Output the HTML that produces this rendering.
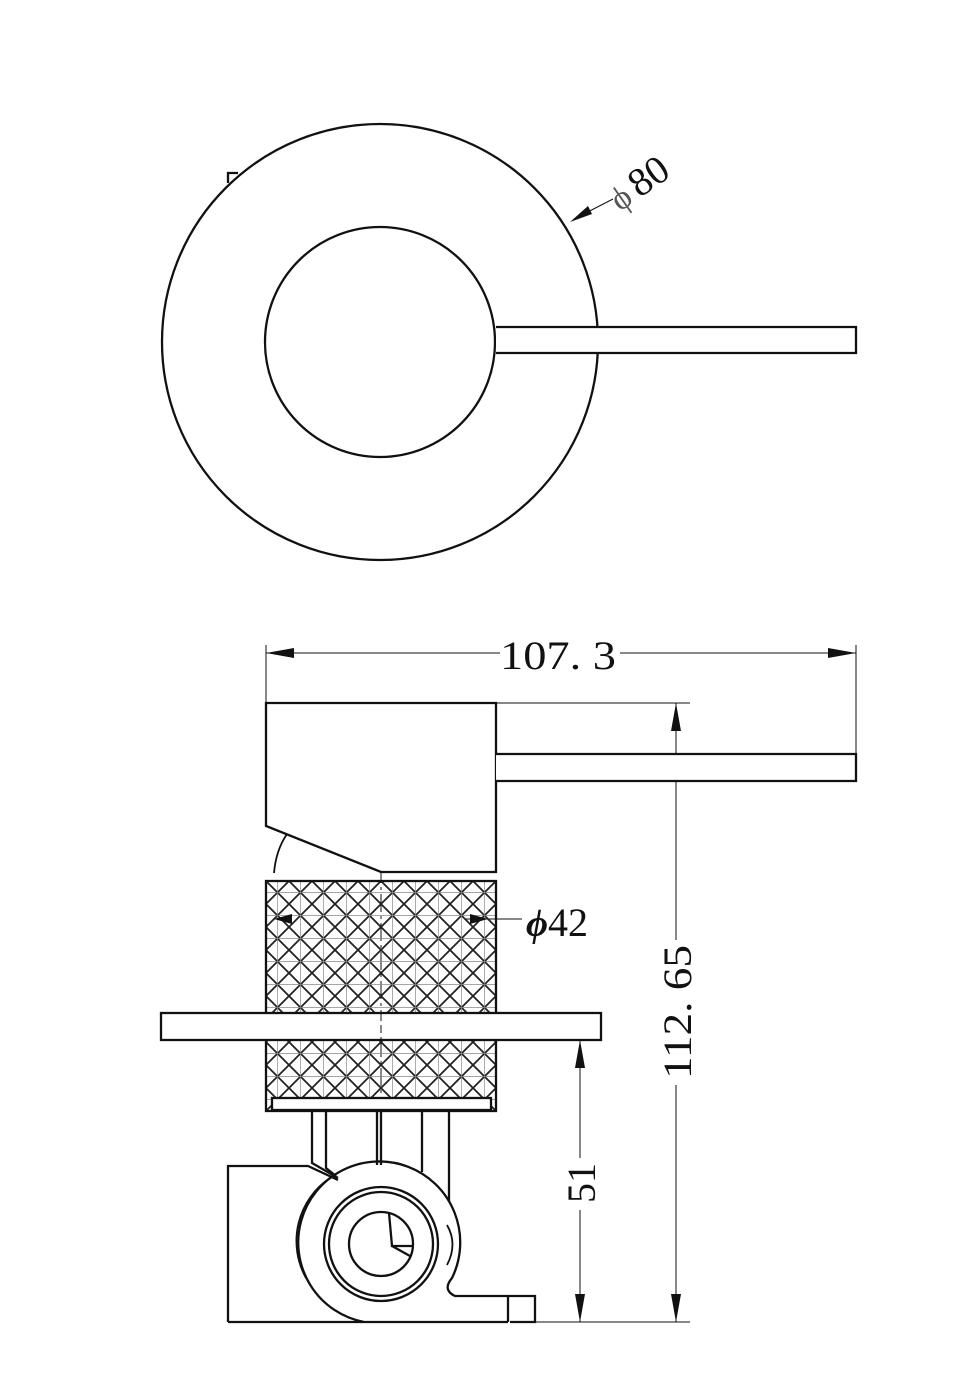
<!DOCTYPE html>
<html><head><meta charset="utf-8"><style>
html,body{margin:0;padding:0;background:#fff;}
svg{display:block}
text{font-family:"Liberation Serif",serif;fill:#111}
</style></head><body>
<svg width="972" height="1394" viewBox="0 0 972 1394" xmlns="http://www.w3.org/2000/svg">
<defs>
<pattern id="kn" width="23" height="23" patternUnits="userSpaceOnUse" x="266" y="881">
<path d="M0,0 L23,23 M23,0 L0,23 M-11.5,11.5 L11.5,34.5 M11.5,-11.5 L34.5,11.5 M34.5,11.5 L11.5,34.5 M11.5,-11.5 L-11.5,11.5" stroke="#222" stroke-width="1.8" fill="none"/>
<path d="M11.5,0 V23 M0,11.5 H23" stroke="#888" stroke-width="0.7"/>
</pattern>
</defs>
<g fill="none" stroke="#111" stroke-width="2.3">
<circle cx="380" cy="342" r="218"/>
<circle cx="380" cy="342" r="115"/>
<path d="M496,327 H856 V353 H496" fill="#fff"/>
<path d="M228,183 V173 H238"/>
</g>
<line x1="574" y1="219" x2="613" y2="199" stroke="#111" stroke-width="1"/>
<polygon points="570,222 588,206 592,214" fill="#111"/>
<text x="0" y="0" font-size="40" transform="translate(620,212) rotate(-35)"><tspan font-size="34" fill="#555">ϕ</tspan><tspan dx="6">80</tspan></text>

<g stroke="#111" stroke-width="1" fill="none">
<line x1="266" y1="645" x2="266" y2="703"/>
<line x1="856" y1="645" x2="856" y2="780"/>
<line x1="266" y1="653" x2="500" y2="653"/>
<line x1="620" y1="653" x2="856" y2="653"/>
<line x1="496" y1="703" x2="690" y2="703"/>
<line x1="676" y1="703" x2="676" y2="940"/>
<line x1="676" y1="1085" x2="676" y2="1322"/>
<line x1="580" y1="1040" x2="580" y2="1158"/>
<line x1="580" y1="1210" x2="580" y2="1322"/>
<line x1="535" y1="1322" x2="690" y2="1322"/>
<line x1="465" y1="919" x2="522" y2="919"/>
<line x1="381" y1="865" x2="381" y2="1130" stroke-dasharray="18,4,3,4"/>
</g>
<polygon points="266,653 294,648 294,658" fill="#111"/>
<polygon points="856,653 828,648 828,658" fill="#111"/>
<polygon points="676,703 671,731 681,731" fill="#111"/>
<polygon points="676,1322 671,1294 681,1294" fill="#111"/>
<polygon points="580,1040 575,1068 585,1068" fill="#111"/>
<polygon points="580,1322 575,1294 585,1294" fill="#111"/>
<text x="558" y="669" font-size="40" text-anchor="middle" textLength="116" lengthAdjust="spacingAndGlyphs">107. 3</text>
<text font-size="40" text-anchor="middle" transform="translate(691,1012) rotate(-90)" textLength="134" lengthAdjust="spacingAndGlyphs">112. 65</text>
<text font-size="40" text-anchor="middle" transform="translate(595,1183) rotate(-90)">51</text>
<text x="526" y="936" font-size="40"><tspan font-style="italic" font-weight="bold" font-size="38">ϕ</tspan>42</text>

<g fill="none" stroke="#111" stroke-width="2.3">
<path d="M274,873 Q276,850 287,834" stroke-width="1.8"/>
<rect x="266" y="881" width="230" height="230" fill="url(#kn)"/>
<path d="M266,703 H496 V872 H381 L266,826 Z" fill="#fff"/>
<path d="M496,754 H856 V781 H496" fill="#fff"/>
<rect x="161" y="1013" width="440" height="27" fill="#fff"/>
<rect x="272" y="1098" width="219" height="12" fill="#fff"/>
</g>
<line x1="381" y1="1013" x2="381" y2="1040" stroke="#111" stroke-width="1" stroke-dasharray="8,4"/>
<polygon points="274,919 292,914 292,924" fill="#111"/>
<polygon points="488,919 470,914 470,924" fill="#111"/>
<g fill="none" stroke="#111" stroke-width="2.3">
<path d="M312,1110 V1163 L338,1178"/>
<path d="M326,1110 V1168 L336,1176"/>
<path d="M377,1110 V1165 M381,1110 V1165"/>
<path d="M422,1110 V1172"/>
<path d="M449,1110 V1202"/>
<path d="M228,1322 V1166 H308 L338,1180"/>
<path d="M228,1322 H508 M510,1322 H535 V1296 H455 Q442,1290 452,1278 A81,81 0 1 0 364,1322" />
<path d="M508,1296 V1322"/>
<path d="M447,1265 Q458,1244 447,1225" stroke-width="1.8"/>
<path d="M306,1278 A76,76 0 0 1 330,1178" stroke-width="1.8"/>
<circle cx="381" cy="1244" r="57"/>
<circle cx="381" cy="1244" r="52"/>
<circle cx="381" cy="1244" r="32"/>
<path d="M389,1213 L392,1246 H412 M392,1246 L410,1256"/>
</g>
</svg>
</body></html>
